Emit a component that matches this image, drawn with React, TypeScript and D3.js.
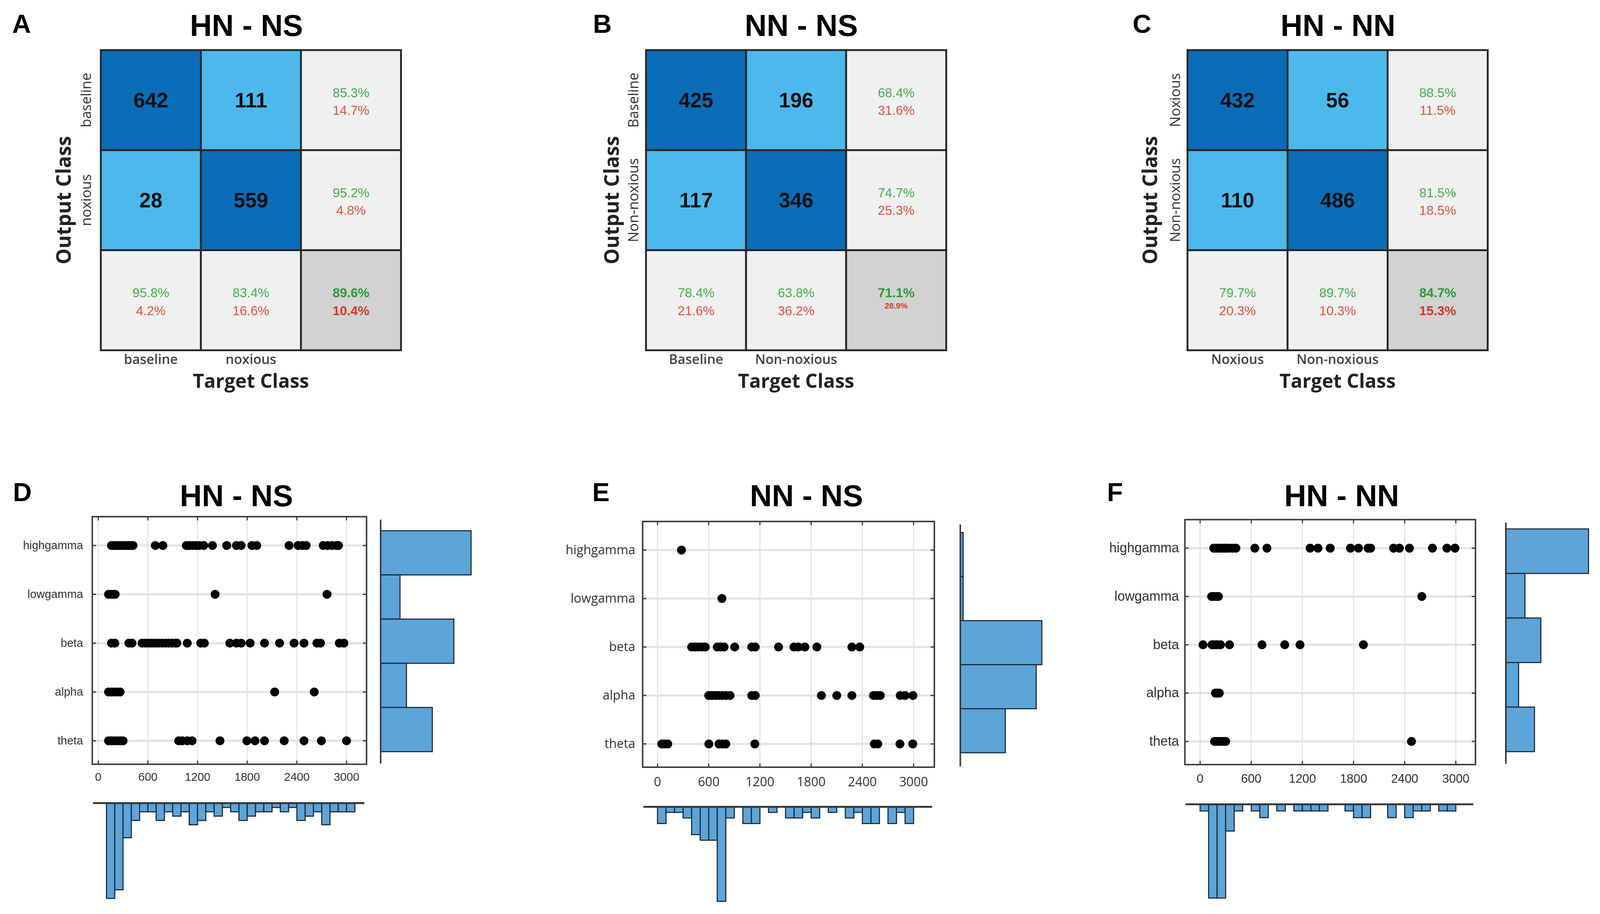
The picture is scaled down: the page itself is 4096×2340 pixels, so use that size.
import React from "react";
import { max, scaleBand, scaleLinear } from "d3";

const ARIAL = "'Liberation Sans', Arial, Helvetica, sans-serif";
const OPEN = "'Open Sans', 'Liberation Sans', Arial, sans-serif";

// confusion matrices: rows = output class, columns = target class
const hnNsCounts = [[642, 111], [28, 559]];
const nnNsCounts = [[425, 196], [117, 346]];
const hnNnCounts = [[432, 56], [110, 486]];
const hnNsClasses = ["baseline", "noxious"];
const nnNsClasses = ["Baseline", "Non-noxious"];
const hnNnClasses = ["Noxious", "Non-noxious"];

// feature scatter: frequency band vs time
const bands = ["highgamma", "lowgamma", "beta", "alpha", "theta"];
const xTicks = [0, 600, 1200, 1800, 2400, 3000];
const binWidth = 100;

const hnNsDots: Record<string, number[]> = {
  highgamma: [160, 190, 220, 250, 280, 310, 340, 370, 400, 420, 690, 781, 1065, 1100, 1140, 1180, 1220, 1275, 1380, 1553, 1670, 1727, 1857, 1915, 2306, 2414, 2469, 2512, 2718, 2772, 2826, 2881, 2903],
  lowgamma: [125, 150, 175, 205, 1412, 2764],
  beta: [160, 200, 371, 408, 530, 570, 610, 650, 690, 730, 770, 810, 850, 890, 930, 950, 1076, 1239, 1282, 1590, 1670, 1727, 1835, 2009, 2191, 2367, 2486, 2642, 2685, 2913, 2968],
  alpha: [125, 160, 195, 230, 265, 2132, 2610],
  theta: [125, 160, 195, 230, 265, 300, 972, 1015, 1076, 1134, 1471, 1796, 1894, 2009, 2247, 2486, 2696, 3000],
};
const hnNsBandCounts = [42, 9, 34, 12, 24];
const hnNsTimeCounts = [22, 20, 8, 4, 2, 2, 4, 2, 3, 2, 5, 4, 2, 3, 1, 2, 4, 3, 2, 2, 1, 2, 1, 4, 3, 2, 5, 2, 2, 2];

const nnNsDots: Record<string, number[]> = {
  highgamma: [281],
  lowgamma: [755],
  beta: [400, 440, 480, 520, 560, 700, 740, 780, 904, 1104, 1145, 1418, 1598, 1650, 1727, 1867, 2277, 2369],
  alpha: [600, 640, 680, 720, 760, 800, 850, 1104, 1145, 1920, 2100, 2277, 2530, 2570, 2610, 2843, 2900, 2992],
  theta: [50, 80, 120, 602, 720, 760, 800, 1140, 2540, 2580, 2840, 2990],
};
const nnNsBandCounts = [1, 1, 29, 27, 16];
const nnNsTimeCounts = [3, 1, 1, 2, 5, 6, 6, 17, 2, 0, 3, 3, 0, 1, 0, 2, 2, 1, 2, 0, 1, 0, 2, 1, 3, 3, 0, 3, 1, 3];

const hnNnDots: Record<string, number[]> = {
  highgamma: [160, 190, 220, 250, 280, 310, 340, 380, 420, 642, 784, 1291, 1382, 1527, 1764, 1858, 1970, 2000, 2270, 2338, 2456, 2726, 2895, 2990],
  lowgamma: [135, 160, 190, 215, 2601],
  beta: [34, 140, 170, 200, 240, 345, 726, 993, 1172, 1916],
  alpha: [180, 200, 225],
  theta: [170, 200, 230, 260, 300, 2480],
};
const hnNnBandCounts = [26, 6, 11, 4, 9];
const hnNnTimeCounts = [1, 14, 14, 4, 1, 0, 1, 2, 0, 1, 0, 1, 1, 1, 1, 0, 0, 1, 2, 2, 0, 0, 2, 0, 2, 1, 1, 0, 1, 1];

const DARK = "#0B6DB8";
const LIGHT = "#4DB8EC";
const GRAY = "#F0F0F0";
const CORNER = "#D2D2D2";
const GREEN = "#47B04B";
const RED = "#E0553F";
const BAR = "#5DA4D9";

const CELL = 270;
const MATRIX_TOP = 135;

const matrixPanels = [
  { letter: "A", title: "HN - NS", counts: hnNsCounts, classes: hnNsClasses, left: 272, letterX: 33, titleX: 665, rowLabelX: 246, outputX: 191, tinyError: false },
  { letter: "B", title: "NN - NS", counts: nnNsCounts, classes: nnNsClasses, left: 1743, letterX: 1600, titleX: 2162, rowLabelX: 1722, outputX: 1669, tinyError: true },
  { letter: "C", title: "HN - NN", counts: hnNnCounts, classes: hnNnClasses, left: 3204, letterX: 3056, titleX: 3610, rowLabelX: 3184, outputX: 3122, tinyError: false },
];

const scatterPanels = [
  {
    letter: "D", title: "HN - NS", dots: hnNsDots, bandCounts: hnNsBandCounts, timeCounts: hnNsTimeCounts, binStart: 100,
    letterX: 35, titleX: 638, left: 249, right: 989, top: 1394, bottom: 2062, x0: 265, x1: 935,
    labelFont: ARIAL, labelSize: 31, labelX: 224, tickFont: ARIAL, tickSize: 31, tickY: 2107,
    histX: 1027, histTop: 1432, histBottom: 2028, histExt: 244, baseY: 2167, baseExt: 257,
  },
  {
    letter: "E", title: "NN - NS", dots: nnNsDots, bandCounts: nnNsBandCounts, timeCounts: nnNsTimeCounts, binStart: 0,
    letterX: 1598, titleX: 2176, left: 1734, right: 2521, top: 1407, bottom: 2070, x0: 1774, x1: 2465,
    labelFont: OPEN, labelSize: 34, labelX: 1714, tickFont: OPEN, tickSize: 34, tickY: 2121,
    histX: 2591, histTop: 1437, histBottom: 2031, histExt: 220, baseY: 2177, baseExt: 255,
  },
  {
    letter: "F", title: "HN - NN", dots: hnNnDots, bandCounts: hnNnBandCounts, timeCounts: hnNnTimeCounts, binStart: 0,
    letterX: 2987, titleX: 3620, left: 3197, right: 3981, top: 1402, bottom: 2063, x0: 3238, x1: 3928,
    labelFont: ARIAL, labelSize: 36, labelX: 3181, tickFont: ARIAL, tickSize: 33, tickY: 2112,
    histX: 4063, histTop: 1427, histBottom: 2028, histExt: 223, baseY: 2170, baseExt: 253,
  },
];

const pct = (v: number) => (v * 100).toFixed(1) + "%";

function ConfusionPanel({ p }: { p: (typeof matrixPanels)[number] }) {
  const idx = [0, 1, 2];
  const xb = scaleBand<number>().domain(idx).range([p.left, p.left + 3 * CELL]);
  const yb = scaleBand<number>().domain(idx).range([MATRIX_TOP, MATRIX_TOP + 3 * CELL]);
  const m = p.counts;
  const rowTot = m.map((r) => r[0] + r[1]);
  const colTot = [m[0][0] + m[1][0], m[0][1] + m[1][1]];
  const total = rowTot[0] + rowTot[1];
  const bw = xb.bandwidth();

  const cells: React.ReactNode[] = [];
  idx.forEach((i) =>
    idx.forEach((j) => {
      const x = xb(j) ?? 0;
      const y = yb(i) ?? 0;
      const cx = x + bw / 2;
      const cy = y + bw / 2;
      let fill = GRAY;
      if (i < 2 && j < 2) fill = i === j ? DARK : LIGHT;
      if (i === 2 && j === 2) fill = CORNER;
      cells.push(<rect key={`r${i}${j}`} x={x} y={y} width={bw} height={bw} fill={fill} stroke="#262626" strokeWidth={5} />);
      if (i < 2 && j < 2) {
        cells.push(
          <text key={`t${i}${j}`} x={cx} y={cy + 20} textAnchor="middle" fontFamily={ARIAL} fontWeight="bold" fontSize={56} fill="#111">
            {m[i][j]}
          </text>
        );
        return;
      }
      let good = 0;
      if (i < 2) good = m[i][i] / rowTot[i];
      else if (j < 2) good = m[j][j] / colTot[j];
      else good = (m[0][0] + m[1][1]) / total;
      const corner = i === 2 && j === 2;
      cells.push(
        <text key={`g${i}${j}`} x={cx} y={cy - 8} textAnchor="middle" fontFamily={ARIAL} fontWeight={corner ? "bold" : "normal"} fontSize={35} fill={corner ? "#2F9A3C" : GREEN}>
          {pct(good)}
        </text>
      );
      cells.push(
        <text
          key={`e${i}${j}`}
          x={cx}
          y={corner && p.tinyError ? cy + 22 : cy + 40}
          textAnchor="middle"
          fontFamily={ARIAL}
          fontWeight={corner ? "bold" : "normal"}
          fontSize={corner && p.tinyError ? 22 : 35}
          fill={corner ? "#D63B2A" : RED}
        >
          {pct(1 - good)}
        </text>
      );
    })
  );

  const midY = MATRIX_TOP + 1.5 * CELL;
  return (
    <g>
      <text x={p.letterX} y={88} fontFamily={ARIAL} fontWeight="bold" fontSize={70} fill="#000">{p.letter}</text>
      <text x={p.titleX} y={97} textAnchor="middle" fontFamily={ARIAL} fontWeight="bold" fontSize={82} fill="#000">{p.title}</text>
      {cells}
      {p.classes.map((c, i) => (
        <text
          key={`row${c}`}
          transform={`translate(${p.rowLabelX},${(yb(i) ?? 0) + bw / 2}) rotate(-90)`}
          textAnchor="middle"
          fontFamily={OPEN}
          fontSize={38}
          fill="#333"
        >
          {c}
        </text>
      ))}
      {p.classes.map((c, j) => (
        <text key={`col${c}`} x={(xb(j) ?? 0) + bw / 2} y={982} textAnchor="middle" fontFamily={OPEN} fontWeight={600} fontSize={36} fill="#444">
          {c}
        </text>
      ))}
      <text transform={`translate(${p.outputX},${midY}) rotate(-90)`} textAnchor="middle" fontFamily={OPEN} fontWeight="bold" fontSize={54} fill="#222">
        Output Class
      </text>
      <text x={(xb(1) ?? 0) + bw / 2} y={1046} textAnchor="middle" fontFamily={OPEN} fontWeight="bold" fontSize={52} fill="#222">
        Target Class
      </text>
    </g>
  );
}

function ScatterPanel({ p }: { p: (typeof scatterPanels)[number] }) {
  const x = scaleLinear().domain([0, 3000]).range([p.x0, p.x1]);
  const y = scaleLinear().domain([0.52, 5.59]).range([p.bottom, p.top]);
  const level = (b: string) => bands.length - bands.indexOf(b);
  const rBand = scaleBand<string>().domain(bands).range([p.histTop, p.histBottom]);
  const rLen = scaleLinear().domain([0, max(p.bandCounts) ?? 1]).range([0, p.histExt]);
  const bLen = scaleLinear().domain([0, max(p.timeCounts) ?? 1]).range([0, p.baseExt]);
  const tick = 10;

  return (
    <g>
      <text x={p.letterX} y={1352} fontFamily={ARIAL} fontWeight="bold" fontSize={70} fill="#000">{p.letter}</text>
      <text x={p.titleX} y={1366} textAnchor="middle" fontFamily={ARIAL} fontWeight="bold" fontSize={82} fill="#000">{p.title}</text>

      <rect x={p.left} y={p.top} width={p.right - p.left} height={p.bottom - p.top} fill="#fff" />
      {xTicks.map((t) => (
        <line key={`gx${t}`} x1={x(t)} x2={x(t)} y1={p.top} y2={p.bottom} stroke="#E2E2E2" strokeWidth={3} />
      ))}
      {bands.map((b) => (
        <line key={`gy${b}`} x1={p.left} x2={p.right} y1={y(level(b))} y2={y(level(b))} stroke="#E4E4E4" strokeWidth={6} />
      ))}
      {bands.map((b) =>
        p.dots[b].map((v, k) => <circle key={`${b}${k}`} cx={x(v)} cy={y(level(b))} r={12} fill="#000" />)
      )}
      {xTicks.map((t) => (
        <g key={`tx${t}`}>
          <line x1={x(t)} x2={x(t)} y1={p.bottom} y2={p.bottom - tick} stroke="#333" strokeWidth={3} />
          <line x1={x(t)} x2={x(t)} y1={p.top} y2={p.top + tick} stroke="#333" strokeWidth={3} />
          <text x={x(t)} y={p.tickY} textAnchor="middle" fontFamily={p.tickFont} fontSize={p.tickSize} fill="#333">{t}</text>
        </g>
      ))}
      {bands.map((b) => (
        <g key={`ty${b}`}>
          <line x1={p.left} x2={p.left + tick} y1={y(level(b))} y2={y(level(b))} stroke="#333" strokeWidth={3} />
          <line x1={p.right} x2={p.right - tick} y1={y(level(b))} y2={y(level(b))} stroke="#333" strokeWidth={3} />
          <text x={p.labelX} y={y(level(b)) + p.labelSize * 0.32} textAnchor="end" fontFamily={p.labelFont} fontSize={p.labelSize} fill="#333">
            {b}
          </text>
        </g>
      ))}
      <rect x={p.left} y={p.top} width={p.right - p.left} height={p.bottom - p.top} fill="none" stroke="#3A3A3A" strokeWidth={4} />

      {/* marginal histogram over bands */}
      {bands.map((b, i) =>
        p.bandCounts[i] > 0 ? (
          <rect key={`rh${b}`} x={p.histX} y={rBand(b)} width={rLen(p.bandCounts[i])} height={rBand.bandwidth()} fill={BAR} stroke="#1D2B38" strokeWidth={3} />
        ) : null
      )}
      <line x1={p.histX} x2={p.histX} y1={p.top + 8} y2={p.bottom - 2} stroke="#333" strokeWidth={4} />

      {/* marginal histogram over time */}
      {p.timeCounts.map((c, i) => {
        const t0 = p.binStart + i * binWidth;
        return c > 0 ? (
          <rect key={`bh${i}`} x={x(t0)} y={p.baseY} width={x(t0 + binWidth) - x(t0)} height={bLen(c)} fill={BAR} stroke="#1D2B38" strokeWidth={3} />
        ) : null;
      })}
      <line x1={p.left + 2} x2={p.right - 6} y1={p.baseY} y2={p.baseY} stroke="#333" strokeWidth={5} />
    </g>
  );
}

export default function App() {
  return (
    <svg
      width={4096}
      height={2340}
      viewBox="0 0 4317 2466"
      style={{ position: "absolute", left: 0, top: 0, background: "#fff" }}
    >
      <rect x={0} y={0} width={4317} height={2466} fill="#fff" />
      {matrixPanels.map((p) => (
        <ConfusionPanel key={p.letter} p={p} />
      ))}
      {scatterPanels.map((p) => (
        <ScatterPanel key={p.letter} p={p} />
      ))}
    </svg>
  );
}
